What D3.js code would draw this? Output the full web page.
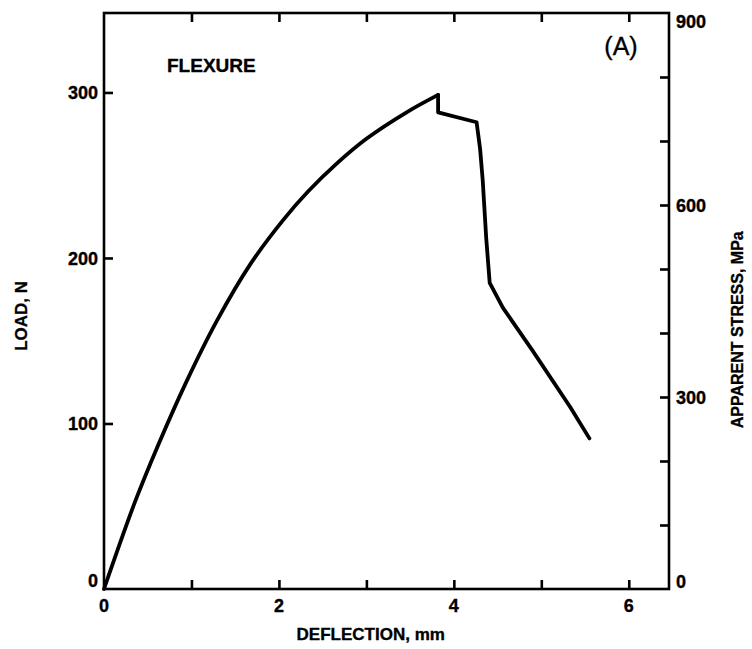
<!DOCTYPE html>
<html>
<head>
<meta charset="utf-8">
<script src="https://cdn.jsdelivr.net/npm/d3@7"></script>
<style>
  html, body { margin: 0; padding: 0; background: #fff; }
  svg { display: block; }
  text { font-family: "Liberation Sans", Arial, Helvetica, sans-serif; fill: #000; stroke: #000; stroke-width: 0.35px; }
</style>
</head>
<body>
<script>
// ---- data ----
const deflectionTicks = [0, 2, 4, 6];
const deflectionMinorTicks = [1, 2, 3, 4, 5, 6];
const loadTicks = [0, 100, 200, 300];
const stressTicks = [0, 300, 600, 900];
const stressMinorTicks = [100, 200, 300, 400, 500, 600, 700, 800];

// rising (smooth) portion: deflection mm, load N
const risingDeflection = [0, 0.35, 0.62, 0.94, 1.29, 1.67, 2.05, 2.33, 2.66, 3.0, 3.46, 3.82];
const risingLoad       = [0, 52, 87, 125, 162, 196, 223, 240, 257, 272, 288, 298.5];
// post-peak (piecewise) portion
const failureDeflection = [3.82, 3.82, 4.26, 4.30, 4.33, 4.37, 4.41, 4.56, 4.90, 5.33, 5.55];
const failureLoad       = [298.5, 288, 282, 266, 247, 212, 185, 170, 144, 110, 91];

const W = 752, H = 649;
const M = { left: 104, right: 669, top: 13, bottom: 589 };

const svg = d3.select("body").append("svg").attr("width", W).attr("height", H);

const x = d3.scaleLinear().domain([0, 6.46]).range([M.left, M.right]);
const y = d3.scaleLinear().domain([0, 348]).range([M.bottom, M.top]);
const y2 = d3.scaleLinear().domain([0, 900]).range([M.bottom, M.top]);

const tickLen = 9;

// frame
svg.append("rect")
  .attr("x", M.left).attr("y", M.top)
  .attr("width", M.right - M.left).attr("height", M.bottom - M.top)
  .attr("fill", "none").attr("stroke", "#000").attr("stroke-width", 2.6);

// bottom axis (ticks inward)
const xb = svg.append("g").attr("transform", `translate(0,${M.bottom})`)
  .call(d3.axisBottom(x).tickValues(deflectionMinorTicks).tickSize(-tickLen).tickFormat(""));
xb.select(".domain").remove();
xb.selectAll("line").attr("stroke-width", 2.6);
svg.append("g").selectAll("text").data(deflectionTicks).join("text")
  .attr("x", d => x(d)).attr("y", 612)
  .attr("text-anchor", "middle").attr("font-weight", "bold").attr("font-size", 18)
  .text(d => d);

// top axis ticks
const xt = svg.append("g").attr("transform", `translate(0,${M.top})`)
  .call(d3.axisTop(x).tickValues(deflectionMinorTicks).tickSize(-tickLen).tickFormat(""));
xt.select(".domain").remove();
xt.selectAll("line").attr("stroke-width", 2.6);

// left axis
const yl = svg.append("g").attr("transform", `translate(${M.left},0)`)
  .call(d3.axisLeft(y).tickValues(loadTicks.filter(d => d > 0)).tickSize(-tickLen).tickFormat(""));
yl.select(".domain").remove();
yl.selectAll("line").attr("stroke-width", 2.6);
svg.append("g").selectAll("text").data(loadTicks).join("text")
  .attr("x", M.left - 6).attr("y", d => d === 0 ? y(d) - 2 : y(d) + 7)
  .attr("text-anchor", "end").attr("font-weight", "bold").attr("font-size", 18)
  .text(d => d);

// right axis
const yr = svg.append("g").attr("transform", `translate(${M.right},0)`)
  .call(d3.axisRight(y2).tickValues(stressMinorTicks).tickSize(-tickLen).tickFormat(""));
yr.select(".domain").remove();
yr.selectAll("line").attr("stroke-width", 2.6);
svg.append("g").selectAll("text").data(stressTicks).join("text")
  .attr("x", M.right + 7)
  .attr("y", d => d === 900 ? y2(d) + 15 : (d === 0 ? y2(d) - 1 : y2(d) + 7))
  .attr("text-anchor", "start").attr("font-weight", "bold").attr("font-size", 18)
  .text(d => d);

// curve
const rising = risingDeflection.map((d, i) => [d, risingLoad[i]]);
const failure = failureDeflection.map((d, i) => [d, failureLoad[i]]);
svg.append("path").datum(rising)
  .attr("d", d3.line().x(d => x(d[0])).y(d => y(d[1])).curve(d3.curveCatmullRom.alpha(0.5)))
  .attr("fill", "none").attr("stroke", "#000").attr("stroke-width", 3.8)
  .attr("stroke-linejoin", "round").attr("stroke-linecap", "round");
svg.append("path").datum(failure)
  .attr("d", d3.line().x(d => x(d[0])).y(d => y(d[1])))
  .attr("fill", "none").attr("stroke", "#000").attr("stroke-width", 3.8)
  .attr("stroke-linejoin", "round").attr("stroke-linecap", "round");

// titles
svg.append("text").attr("x", x(3.05)).attr("y", 640)
  .attr("text-anchor", "middle").attr("font-weight", "bold").attr("font-size", 17)
  .text("DEFLECTION, mm");
svg.append("text").attr("transform", `translate(27,${y(165)}) rotate(-90)`)
  .attr("text-anchor", "middle").attr("font-weight", "bold").attr("font-size", 17)
  .text("LOAD, N");
svg.append("text").attr("transform", `translate(743,${y2(405)}) rotate(-90)`)
  .attr("text-anchor", "middle").attr("font-weight", "bold").attr("font-size", 16)
  .text("APPARENT STRESS, MPa");
svg.append("text").attr("x", 167).attr("y", 72)
  .attr("font-weight", "bold").attr("font-size", 19)
  .text("FLEXURE");
svg.append("text").attr("x", 621).attr("y", 55)
  .attr("text-anchor", "middle").attr("font-size", 25)
  .text("(A)");
</script>
</body>
</html>
